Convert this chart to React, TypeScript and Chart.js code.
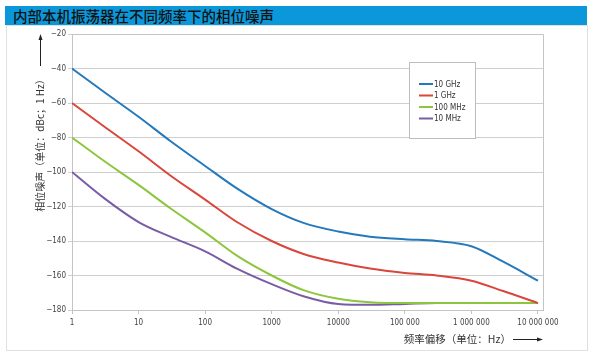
import React, { useEffect, useRef } from "react";
import { Chart, registerables } from "chart.js";

Chart.register(...registerables);

const titleText = "内部本机振荡器在不同频率下的相位噪声";
const yAxisTitle = "相位噪声（单位：dBc；1 Hz）";
const xAxisTitle = "频率偏移（单位：Hz）";

const freqs = [1, 3, 10, 30, 100, 300, 1000, 3000, 10000, 30000, 100000, 300000, 1000000, 3000000, 10000000];
const ghz10 = [-40, -53.5, -68, -82, -96.5, -109.5, -121.5, -129.5, -134.5, -137.5, -139, -140, -143, -152, -163];
const ghz1 = [-60, -73.5, -88, -102, -116, -129, -140, -147.5, -152.5, -156, -158.5, -160, -163, -169, -176];
const mhz100 = [-80, -93.5, -107.5, -121, -135, -148.5, -160, -168.5, -173.5, -175.5, -176, -176, -176, -176, -176];
const mhz10 = [-100, -115, -129, -137.5, -146, -156, -165, -172, -176.5, -177, -176.5, -176, -176];

const seriesLabels = ["10 GHz", "1 GHz", "100 MHz", "10 MHz"];
const seriesColors = ["#2479bd", "#d9463c", "#8cc63e", "#7a5ca6"];
const seriesValues = [ghz10, ghz1, mhz100, mhz10];

const xTickValues = [1, 10, 100, 1000, 10000, 100000, 1000000, 10000000];
const xTickLabels = ["1", "10", "100", "1000", "10000", "100 000", "1 000 000", "10 000 000"];

const NARROW = "'Liberation Sans Narrow', 'DejaVu Sans Condensed', sans-serif";
const CJK = "'Noto Sans CJK SC', sans-serif";

const decorPlugin = {
  id: "decor",
  afterDraw(chart: any) {
    const ctx = chart.ctx;
    const a = chart.chartArea;
    ctx.save();
    ctx.strokeStyle = "#c4c4c4";
    ctx.lineWidth = 1;
    ctx.beginPath();
    ctx.moveTo(Math.round(a.left) + 0.5, Math.round(a.top) + 0.5);
    ctx.lineTo(Math.round(a.right) + 0.5, Math.round(a.top) + 0.5);
    ctx.lineTo(Math.round(a.right) + 0.5, Math.round(a.bottom) + 0.5);
    ctx.stroke();

    const bx = 409, by = 62, bw = 66, bh = 76;
    ctx.fillStyle = "#ffffff";
    ctx.fillRect(bx, by, bw, bh);
    ctx.strokeStyle = "#bdbdbd";
    ctx.strokeRect(bx + 0.5, by + 0.5, bw, bh);
    const rows = [84, 95.5, 107, 118.5];
    ctx.font = "8px " + NARROW;
    ctx.textBaseline = "middle";
    ctx.textAlign = "left";
    chart.data.datasets.forEach((ds: any, i: number) => {
      const y = rows[i];
      ctx.strokeStyle = ds.borderColor;
      ctx.lineWidth = 2;
      ctx.beginPath();
      ctx.moveTo(419, y);
      ctx.lineTo(433, y);
      ctx.stroke();
      ctx.fillStyle = "#333";
      ctx.fillText(ds.label, 434, y + 0.5);
    });

    ctx.fillStyle = "#333";
    ctx.font = "10px " + CJK;
    ctx.save();
    ctx.translate(40, 143);
    ctx.rotate(-Math.PI / 2);
    ctx.textAlign = "center";
    ctx.textBaseline = "middle";
    ctx.fillText(yAxisTitle, 0, 0);
    ctx.restore();
    ctx.strokeStyle = "#222";
    ctx.lineWidth = 1;
    ctx.beginPath();
    ctx.moveTo(40.5, 66);
    ctx.lineTo(40.5, 38);
    ctx.stroke();
    ctx.fillStyle = "#222";
    ctx.beginPath();
    ctx.moveTo(40.5, 34);
    ctx.lineTo(38.5, 40);
    ctx.lineTo(42.5, 40);
    ctx.closePath();
    ctx.fill();

    ctx.fillStyle = "#333";
    ctx.font = "10.5px " + CJK;
    ctx.textAlign = "right";
    ctx.textBaseline = "middle";
    ctx.fillText(xAxisTitle, 511, 339);
    ctx.strokeStyle = "#222";
    ctx.beginPath();
    ctx.moveTo(513, 339.5);
    ctx.lineTo(538, 339.5);
    ctx.stroke();
    ctx.fillStyle = "#222";
    ctx.beginPath();
    ctx.moveTo(543, 339.5);
    ctx.lineTo(537, 337.5);
    ctx.lineTo(537, 341.5);
    ctx.closePath();
    ctx.fill();
    ctx.restore();
  },
};

export default function App() {
  const ref = useRef<HTMLCanvasElement | null>(null);

  useEffect(() => {
    if (!ref.current) return;
    const chart = new Chart(ref.current, {
      type: "line",
      data: {
        datasets: seriesValues.map((vals, i) => ({
          label: seriesLabels[i],
          data: vals.map((v, j) => ({ x: freqs[j], y: v })),
          borderColor: seriesColors[i],
          backgroundColor: seriesColors[i],
          borderWidth: 2,
          pointRadius: 0,
          cubicInterpolationMode: "monotone" as const,
          fill: false,
        })),
      },
      options: {
        responsive: false,
        animation: false,
        layout: { padding: { left: 0, top: 34, right: 57, bottom: 17 } },
        plugins: { legend: { display: false }, tooltip: { enabled: false } },
        scales: {
          x: {
            type: "logarithmic",
            min: 1,
            max: 11900000,
            afterBuildTicks: (scale: any) => {
              scale.ticks = xTickValues.map((v) => ({ value: v }));
            },
            afterFit: (scale: any) => {
              scale.height = 30;
            },
            grid: { drawOnChartArea: false, drawTicks: true, tickLength: 4, color: "#c4c4c4" },
            border: { display: true, color: "#c4c4c4" },
            ticks: {
              autoSkip: false,
              maxRotation: 0,
              padding: 4,
              color: "#444",
              font: { family: NARROW, size: 8 },
              callback: (_v: any, idx: number) => xTickLabels[idx],
            },
          },
          y: {
            min: -180,
            max: -20,
            afterFit: (scale: any) => {
              scale.width = 72;
            },
            grid: { color: "#cfcfcf", tickLength: 4, drawTicks: true },
            border: { display: true, color: "#c4c4c4" },
            ticks: {
              stepSize: 20,
              padding: 2,
              color: "#444",
              font: { family: NARROW, size: 8 },
              callback: (v: any) => String(v).replace("-", "\u2212"),
            },
          },
        },
      },
      plugins: [decorPlugin],
    });
    return () => chart.destroy();
  }, []);

  return (
    <div style={{ position: "absolute", left: 0, top: 0, width: 600, height: 357, background: "#fff", overflow: "hidden" }}>
      <div
        style={{
          position: "absolute",
          left: 6,
          top: 25,
          width: 580,
          height: 324,
          border: "1px solid #e0e0e0",
        }}
      />
      <div
        style={{
          position: "absolute",
          left: 5,
          top: 6,
          width: 582,
          height: 19,
          background: "#0a98da",
          color: "#111",
          fontFamily: CJK,
          fontSize: 14.5,
          fontWeight: 500,
          lineHeight: "19px",
          paddingLeft: 8,
          boxSizing: "border-box",
          whiteSpace: "nowrap",
        }}
      >
        {titleText}
      </div>
      <canvas ref={ref} width={600} height={357} style={{ position: "absolute", left: 0, top: 0, width: 600, height: 357 }} />
    </div>
  );
}
